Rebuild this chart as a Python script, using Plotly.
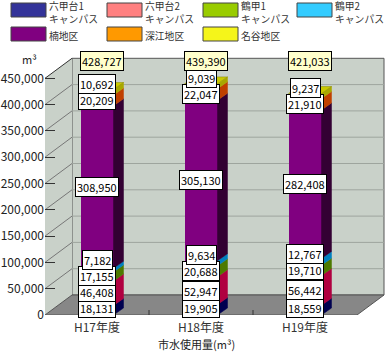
import plotly.graph_objects as go

# ---------------- data ----------------
CATEGORIES = ["H17年度", "H18年度", "H19年度"]
SERIES_NAMES = ["六甲台1キャンパス", "六甲台2キャンパス", "鶴甲1キャンパス", "鶴甲2キャンパス",
                "楠地区", "深江地区", "名谷地区"]
LEGEND_LINES = [["六甲台1", "キャンパス"], ["六甲台2", "キャンパス"], ["鶴甲1", "キャンパス"],
                ["鶴甲2", "キャンパス"], ["楠地区"], ["深江地区"], ["名谷地区"]]
rokkodai1 = [18131, 19905, 18559]
rokkodai2 = [46408, 52947, 56442]
tsurukabuto1 = [17155, 20688, 19710]
tsurukabuto2 = [7182, 9634, 12767]
kusunoki = [308950, 305130, 282408]
fukae = [20209, 22047, 21910]
myodani = [10692, 9039, 9237]
totals = [428727, 439390, 421033]
Y_TICKS = [0, 50000, 100000, 150000, 200000, 250000, 300000, 350000, 400000, 450000]
Y_UNIT = "m³"
X_TITLE = "市水使用量(m³)"

SERIES_VALUES = [rokkodai1, rokkodai2, tsurukabuto1, tsurukabuto2, kusunoki, fukae, myodani]

# ---------------- styles / geometry ----------------
FRONT = ["#333399", "#ff8080", "#99cc00", "#33ccff", "#800080", "#ff9900", "#f5f51a"]
SIDE = ["#000050", "#b00040", "#4d7a00", "#0080c0", "#330033", "#c04000", "#a8a800"]
TOP = "#c8c800"
WALL = "#c9d1c9"
GRID = "#9ea59e"
FLOOR = "#878787"
EDGE = "#555555"
FONT = "Noto Sans CJK JP"

FIG_W, FIG_H = 385, 354
L, B, T = 45, 39, 50
W = FIG_W - L
H = FIG_H - T - B
CAT_PX = 104.0
K = 26.3 / 50000.0            # pixels per unit
DX = 27 / CAT_PX              # depth of box (x units)
DY = 20 / K                   # depth of box (y units)
BW = 33 / CAT_PX              # bar width
BDX = 10 / CAT_PX             # bar depth
BDY = 7 / K
XMIN = -0.5
XMAX = XMIN + W / CAT_PX
YMAX = H / K
ZERO_PX = FIG_H - B


def ppx(x):   # pixel x -> paper
    return (x - L) / W


def ppy(y):   # pixel y -> paper
    return (FIG_H - B - y) / H


fig = go.Figure()
shapes = []
annotations = []


def path(pts):
    return "M " + " L ".join(f"{x},{y}" for x, y in pts) + " Z"


# back wall, left wall, floor
top_v = Y_TICKS[-1]
shapes.append(dict(type="path", xref="x", yref="y", layer="below",
                   path=path([(XMIN + DX, DY), (2.5 + DX, DY), (2.5 + DX, top_v + DY), (XMIN + DX, top_v + DY)]),
                   fillcolor=WALL, line=dict(color=EDGE, width=1)))
shapes.append(dict(type="path", xref="x", yref="y", layer="below",
                   path=path([(XMIN, 0), (XMIN + DX, DY), (XMIN + DX, top_v + DY), (XMIN, top_v)]),
                   fillcolor=WALL, line=dict(color=WALL, width=0)))
shapes.append(dict(type="line", xref="x", yref="y", layer="below",
                   x0=XMIN, y0=top_v, x1=XMIN + DX, y1=top_v + DY, line=dict(color="#333333", width=1)))
for v in Y_TICKS[1:-1]:
    shapes.append(dict(type="line", xref="x", yref="y", layer="below",
                       x0=XMIN + DX, y0=v + DY, x1=2.5 + DX, y1=v + DY, line=dict(color=GRID, width=1)))
for v in Y_TICKS[1:-1]:
    shapes.append(dict(type="line", xref="x", yref="y", layer="below",
                       x0=XMIN, y0=v, x1=XMIN + DX, y1=v + DY, line=dict(color="#777777", width=1)))
shapes.append(dict(type="path", xref="x", yref="y", layer="below",
                   path=path([(XMIN, 0), (2.5, 0), (2.5 + DX, DY), (XMIN + DX, DY)]),
                   fillcolor=FLOOR, line=dict(color=EDGE, width=1)))
for xb in [0.5, 1.5]:
    shapes.append(dict(type="line", xref="x", yref="y", layer="below",
                       x0=xb, y0=0, x1=xb, y1=5 / K, line=dict(color="#333333", width=1)))

# bars (front faces)
for name, vals, c in zip(SERIES_NAMES, SERIES_VALUES, FRONT):
    fig.add_trace(go.Bar(x=[0, 1, 2], y=vals, width=BW, name=name,
                         marker=dict(color=c, line=dict(width=0)), showlegend=False,
                         hoverinfo="skip"))

# side faces and top face
for i in range(len(CATEGORIES)):
    base = 0
    for s, vals in enumerate(SERIES_VALUES):
        v = vals[i]
        x0 = i + BW / 2
        xs = [x0, x0 + BDX, x0 + BDX, x0, x0]
        ys = [base, base + BDY, base + v + BDY, base + v, base]
        fig.add_trace(go.Scatter(x=xs, y=ys, fill="toself", mode="lines",
                                 fillcolor=SIDE[s], line=dict(color=SIDE[s], width=0.5),
                                 showlegend=False, hoverinfo="skip"))
        base += v
    xs = [i - BW / 2, i + BW / 2, i + BW / 2 + BDX, i - BW / 2 + BDX, i - BW / 2]
    ys = [base, base, base + BDY, base + BDY, base]
    fig.add_trace(go.Scatter(x=xs, y=ys, fill="toself", mode="lines",
                             fillcolor=TOP, line=dict(color="#888800", width=0.5),
                             showlegend=False, hoverinfo="skip"))

# value labels (pushed apart so they do not overlap)
GAP = 16
for i in range(len(CATEGORIES)):
    base = 0
    centers = []
    for vals in SERIES_VALUES:
        v = vals[i]
        centers.append((base + v / 2) * K)
        base += v
    pos = []
    prev = None
    for c in centers:
        p = max(c, 7.5) if prev is None else max(c, prev + GAP)
        pos.append(p)
        prev = p
    for s, vals in enumerate(SERIES_VALUES):
        annotations.append(dict(xref="x", yref="y", x=i, y=pos[s] / K, text=f"{vals[i]:,}",
                                showarrow=False, bgcolor="white", bordercolor="black",
                                borderwidth=1, borderpad=1,
                                font=dict(family=FONT, size=11, color="black")))
    annotations.append(dict(xref="x", yref="y", x=i + 5 / CAT_PX, y=(ZERO_PX - 61) / K,
                            text=f"{totals[i]:,}", showarrow=False, bgcolor="#ffffcc",
                            bordercolor="black", borderwidth=1, borderpad=1,
                            font=dict(family=FONT, size=11, color="black")))

# legend (manual)
LEG_POS = [(11, 3), (107, 3), (203, 3), (297, 3), (11, 27), (107, 27), (203, 27)]
for (lx, ly), lines, c in zip(LEG_POS, LEGEND_LINES, FRONT):
    shapes.append(dict(type="rect", xref="paper", yref="paper",
                       x0=ppx(lx), x1=ppx(lx + 35), y0=ppy(ly), y1=ppy(ly + 14),
                       fillcolor=c, line=dict(color="#444444", width=1)))
    annotations.append(dict(xref="paper", yref="paper", x=ppx(lx + 37), y=ppy(ly + 9.5),
                            xanchor="left", yanchor="middle", align="left",
                            text="<br>".join(lines), showarrow=False, borderpad=0,
                            font=dict(family=FONT, size=9.8, color="#333333")))

annotations.append(dict(xref="paper", yref="paper", x=ppx(29), y=ppy(68), text=Y_UNIT,
                        showarrow=False, xanchor="center", yanchor="bottom", borderpad=0,
                        font=dict(family=FONT, size=11, color="#222222")))
annotations.append(dict(xref="paper", yref="paper", x=ppx(196), y=ppy(353), text=X_TITLE,
                        showarrow=False, xanchor="center", yanchor="bottom", borderpad=0,
                        font=dict(family=FONT, size=11, color="#222222")))

fig.update_layout(
    width=FIG_W, height=FIG_H,
    margin=dict(l=L, r=0, t=T, b=B, pad=0),
    paper_bgcolor="white", plot_bgcolor="white",
    barmode="stack", bargap=0,
    shapes=shapes, annotations=annotations,
    showlegend=False,
    xaxis=dict(range=[XMIN, XMAX], tickvals=[0, 1, 2], ticktext=CATEGORIES, ticks="",
               ticklabelstandoff=4,
               showgrid=False, zeroline=False, showline=False, fixedrange=True,
               tickfont=dict(family=FONT, size=12, color="#333333")),
    yaxis=dict(range=[0, YMAX], tickvals=Y_TICKS, tickformat=",", ticks="inside", ticklen=10,
               tickcolor="#333333", showgrid=False, zeroline=False, showline=False,
               fixedrange=True, tickfont=dict(family=FONT, size=12, color="#222222")),
)

fig.write_html("out.html")
